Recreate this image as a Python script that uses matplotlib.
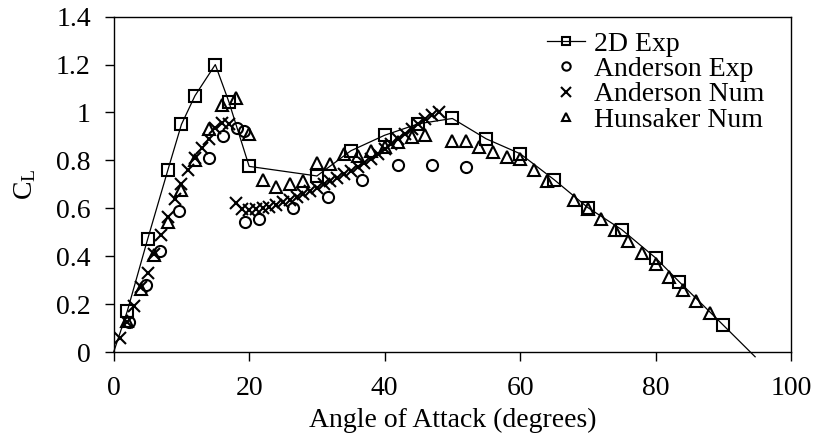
import matplotlib
matplotlib.use("Agg")
import matplotlib.pyplot as plt

# 2D experiment (line + squares); first/last points only carry the line
EXP2D_ALPHA = [0, 2, 5, 8, 10, 12, 15, 17, 20, 30, 35, 40, 45, 50, 55, 60,
               65, 70, 75, 80, 83.5, 90, 94.7]
EXP2D_CL = [0, 0.17, 0.47, 0.76, 0.95, 1.07, 1.20, 1.045, 0.775, 0.735, 0.84,
            0.905, 0.953, 0.975, 0.89, 0.828, 0.72, 0.603, 0.511, 0.393, 0.293,
            0.112, -0.02]

# Anderson experiment (circles)
AND_EXP_ALPHA = [2.2, 4.7, 6.9, 9.6, 14.0, 16.2, 18.2, 19.2, 19.4, 21.5, 26.4,
                 31.6, 36.7, 42.0, 47.0, 52.0]
AND_EXP_CL = [0.126, 0.28, 0.42, 0.59, 0.81, 0.90, 0.937, 0.922, 0.543, 0.557,
              0.60, 0.648, 0.72, 0.781, 0.78, 0.773]

# Anderson numerical (crosses)
AND_NUM_ALPHA = [1, 2, 3, 4, 5, 6, 7, 8, 9, 10, 11, 12, 13, 14, 15, 16, 17,
                 18, 19, 20, 21, 22, 23, 24, 25, 26, 27, 28, 29, 30, 31, 32,
                 33, 34, 35, 36, 37, 38, 39, 40, 41, 42, 43, 44, 45, 46, 47, 48]
AND_NUM_CL = [0.06, 0.125, 0.19, 0.27, 0.33, 0.41, 0.49, 0.565, 0.64, 0.70,
              0.76, 0.81, 0.85, 0.89, 0.935, 0.958, 0.95,
              0.622, 0.597, 0.592, 0.596, 0.60, 0.607, 0.615, 0.626, 0.636,
              0.647, 0.658, 0.672, 0.686, 0.70, 0.713, 0.726, 0.742, 0.756,
              0.772, 0.789, 0.807, 0.828, 0.849, 0.87, 0.89, 0.911, 0.932,
              0.953, 0.972, 0.988, 1.0]

# Hunsaker numerical (triangles)
HUN_ALPHA = [2, 4, 6, 8, 10, 12, 14, 16, 18, 20, 22, 24, 26, 28, 30, 32, 34,
             36, 38, 40, 42, 44, 46, 50, 52, 54, 56, 58, 60, 62, 64, 68, 70,
             72, 74, 76, 78, 80, 82, 84, 86, 88]
HUN_CL = [0.13, 0.265, 0.404, 0.543, 0.675, 0.80, 0.93, 1.03, 1.062, 0.912,
          0.72, 0.69, 0.703, 0.712, 0.79, 0.787, 0.825, 0.82, 0.838, 0.855,
          0.878, 0.897, 0.904, 0.879, 0.879, 0.855, 0.836, 0.814, 0.807,
          0.758, 0.716, 0.635, 0.597, 0.557, 0.511, 0.463, 0.414, 0.369,
          0.314, 0.258, 0.212, 0.161]

FONT = "Liberation Serif"
FS = 20


def main():
    plt.rcParams["font.family"] = FONT
    plt.rcParams["mathtext.fontset"] = "custom"
    plt.rcParams["mathtext.rm"] = FONT
    plt.rcParams["mathtext.it"] = FONT + ":italic"

    fig = plt.figure(figsize=(8.15, 4.44), dpi=100)
    ax = fig.add_axes([0.1395, 0.2072, 0.8311, 0.7552])

    mk = dict(markersize=8, markerfacecolor="none", markeredgecolor="black",
              markeredgewidth=1.5, linestyle="none")

    ax.plot(EXP2D_ALPHA, EXP2D_CL, color="black", lw=0.9, marker="s",
            markevery=slice(1, -1), markersize=8, markerfacecolor="none",
            markeredgecolor="black", markeredgewidth=1.5, clip_on=False,
            label="2D Exp", zorder=3)
    ax.plot(AND_EXP_ALPHA, AND_EXP_CL, marker="o", label="Anderson Exp", **mk)
    ax.plot(AND_NUM_ALPHA, AND_NUM_CL, marker="x", color="black",
            label="Anderson Num", **{**mk, "markersize": 9})
    ax.plot(HUN_ALPHA, HUN_CL, marker="^", label="Hunsaker Num", **mk)

    ax.set_xlim(0, 100)
    ax.set_ylim(0, 1.4)
    ax.set_xticks(range(0, 101, 20))
    ax.set_yticks([0, 0.2, 0.4, 0.6, 0.8, 1.0, 1.2, 1.4])
    ax.set_yticklabels(["0", "0.2", "0.4", "0.6", "0.8", "1", "1.2", "1.4"])
    ax.tick_params(direction="out", length=6.5, width=1, labelsize=FS,
                   colors="black")
    ax.tick_params(axis="x", pad=11)
    ax.tick_params(axis="y", pad=10)
    for s in ax.spines.values():
        s.set_linewidth(1)
        s.set_color("black")

    ax.set_xlabel("Angle of Attack (degrees)", fontsize=FS, labelpad=5)
    ax.set_ylabel(r"C$_\mathrm{L}$", fontsize=FS, labelpad=13)

    ax.legend(loc="upper left", bbox_to_anchor=(0.64, 0.957), frameon=False,
              fontsize=FS, handlelength=1.37, handletextpad=0.32,
              labelspacing=0.0, borderpad=0, borderaxespad=0, markerscale=0.75)

    fig.savefig("out.png", dpi=100)
    plt.close(fig)


if __name__ == "__main__":
    main()
